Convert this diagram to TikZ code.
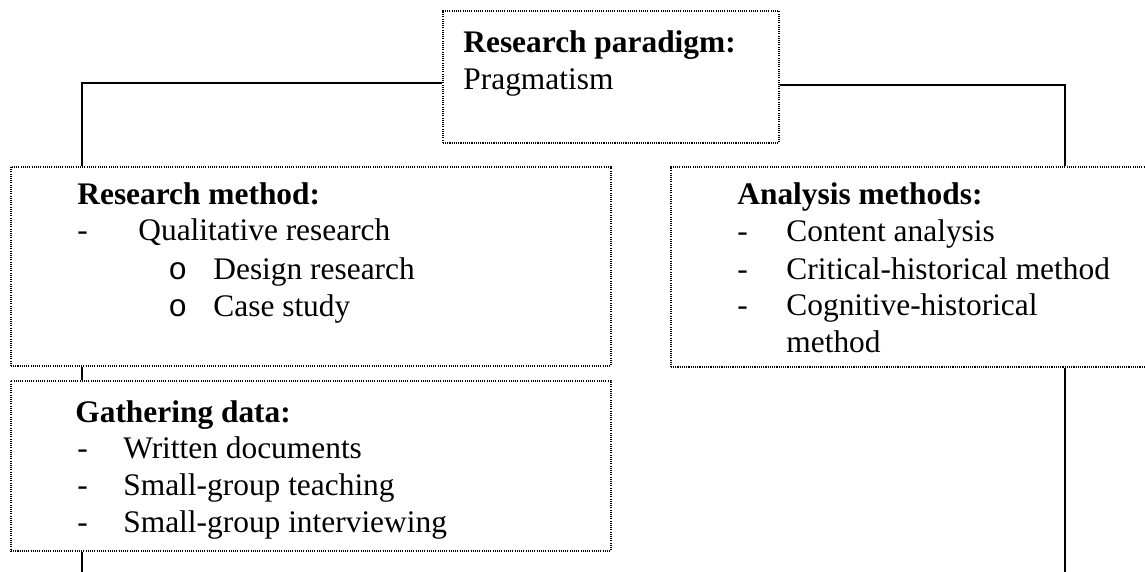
\documentclass[tikz,border=0pt]{standalone}
\usepackage{fontspec}
\setmainfont{Liberation Serif}
\newfontfamily\bulletfont{Liberation Mono}
\usetikzlibrary{calc}

\tikzset{
  box/.style={draw, rectangle, anchor=north west, inner sep=0pt,
    line width=0.8pt, dash pattern=on 0.55pt off 0.55pt},
  conn/.style={draw, line width=0.8pt},
  txt/.style={anchor=base west, inner sep=0pt, font=\fontsize{15.7pt}{18.4pt}\selectfont},
  head/.style={txt, font=\fontsize{15.7pt}{18.4pt}\selectfont\bfseries},
  bul/.style={txt, font=\fontsize{15.7pt}{18.4pt}\selectfont\bulletfont}
}

\begin{document}
\begin{tikzpicture}[x=0.5pt, y=-0.5pt]
  % page frame
  \fill[white] (0,0) rectangle (1145,572);
  \clip (0,0) rectangle (1145,572);

  % boxes
  \node[box, minimum width=168pt, minimum height=66pt] (par) at (442,10) {};
  \node[box, minimum width=300pt, minimum height=99.5pt] (meth) at (10,166) {};
  \node[box, minimum width=300pt, minimum height=85pt] (gath) at (10,380) {};
  \node[box, minimum width=245pt, minimum height=100pt] (anal) at (670,166) {};

  % free ends at the lower page edge
  \coordinate (endL) at (82,572);
  \coordinate (endR) at (1065,572);

  % connectors
  \draw[conn] ($(par.west)+(0,6)$) -| ($(meth.north west)+(72,0)$);
  \draw[conn] ($(par.east)+(0,8)$) -| ($(anal.north west)+(395,0)$);
  \draw[conn] ($(meth.south west)+(72,0)$) -- ($(gath.north west)+(72,0)$);
  \draw[conn] ($(gath.south west)+(72,0)$) -- (endL);
  \draw[conn] ($(anal.south west)+(395,0)$) -- (endR);

  % paradigm
  \node[head] (p1) at (463,53) {Research paradigm:};
  \node[txt]  (p2) at (463,90) {Pragmatism};

  % research method
  \node[head] (m0) at (77,205) {Research method:};
  \node[txt]  (m1d) at (77,241) {-};
  \node[txt]  (m1) at (138,241) {Qualitative research};
  \node[bul]  (m2d) at (168,279) {o};
  \node[txt]  (m2) at (213,279) {Design research};
  \node[bul]  (m3d) at (168,316) {o};
  \node[txt]  (m3) at (213,316) {Case study};

  % gathering data
  \node[head] (g0) at (75,422) {Gathering data:};
  \node[txt]  (g1d) at (77,458) {-};
  \node[txt]  (g1) at (123,458) {Written documents};
  \node[txt]  (g2d) at (77,495) {-};
  \node[txt]  (g2) at (123,495) {Small-group teaching};
  \node[txt]  (g3d) at (77,532) {-};
  \node[txt]  (g3) at (123,532) {Small-group interviewing};

  % analysis methods
  \node[head] (a0) at (737,205) {Analysis methods:};
  \node[txt]  (a1d) at (737,242) {-};
  \node[txt]  (a1) at (786,242) {Content analysis};
  \node[txt]  (a2d) at (737,279) {-};
  \node[txt]  (a2) at (786,279) {Critical-historical method};
  \node[txt]  (a3d) at (737,315) {-};
  \node[txt]  (a3) at (786,315) {Cognitive-historical};
  \node[txt]  (a4) at (786,352) {method};
\end{tikzpicture}
\end{document}
